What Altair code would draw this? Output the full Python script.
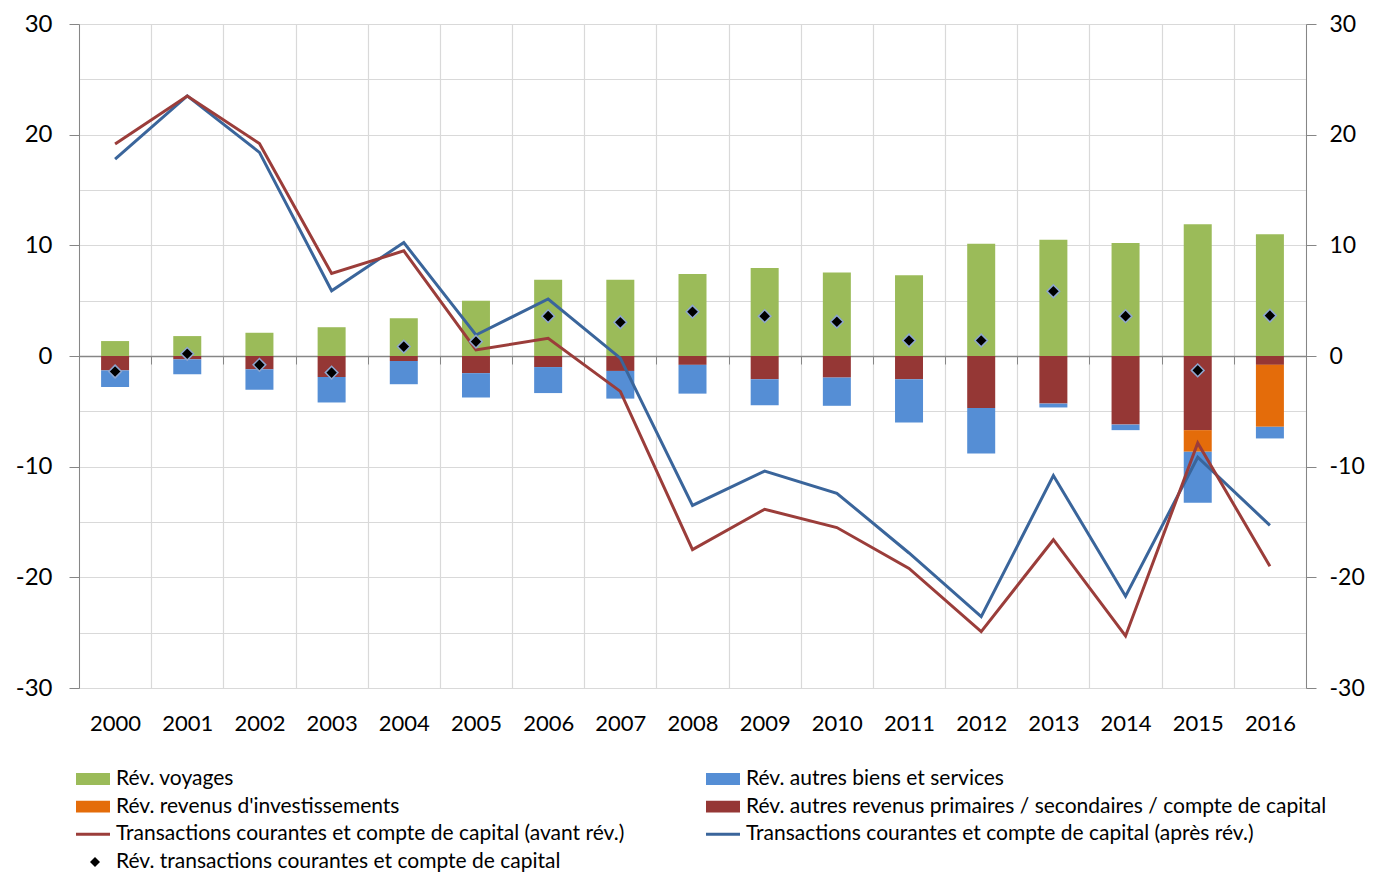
import altair as alt
import pandas as pd

# ---------------- data ----------------
years = [str(y) for y in range(2000, 2017)]
voyages = [1.35, 1.8, 2.1, 2.6, 3.4, 5.0, 6.9, 6.9, 7.4, 7.95, 7.55, 7.3, 10.15, 10.5, 10.2, 11.9, 11.0]
autres_revenus = [-1.3, -0.3, -1.2, -1.9, -0.45, -1.55, -1.0, -1.35, -0.8, -2.1, -1.95, -2.1, -4.7, -4.3, -6.2, -6.7, -0.8]
revenus_inv = [0, 0, 0, 0, 0, 0, 0, 0, 0, 0, 0, 0, 0, 0, 0, -1.95, -5.6]
autres_biens = [-1.5, -1.35, -1.85, -2.3, -2.1, -2.2, -2.35, -2.5, -2.6, -2.35, -2.55, -3.9, -4.1, -0.35, -0.5, -4.6, -1.05]
rev_total = [-1.4, 0.2, -0.8, -1.5, 0.85, 1.3, 3.6, 3.05, 4.0, 3.6, 3.1, 1.4, 1.4, 5.85, 3.6, -1.3, 3.65]
avant = [19.15, 23.5, 19.2, 7.45, 9.5, 0.55, 1.6, -3.2, -17.5, -13.85, -15.5, -19.2, -24.9, -16.6, -25.3, -7.85, -19.0]
apres = [17.8, 23.5, 18.4, 5.9, 10.25, 1.9, 5.15, -0.2, -13.5, -10.4, -12.4, -17.8, -23.55, -10.8, -21.7, -9.15, -15.3]

S_VOY = "Rév. voyages"
S_BIENS = "Rév. autres biens et services"
S_INV = "Rév. revenus d'investissements"
S_AUTRES = "Rév. autres revenus primaires / secondaires / compte de capital"
S_AVANT = "Transactions courantes et compte de capital (avant rév.)"
S_APRES = "Transactions courantes et compte de capital (après rév.)"
S_REV = "Rév. transactions courantes et compte de capital"

series_names = [S_VOY, S_BIENS, S_INV, S_AUTRES, S_AVANT, S_APRES, S_REV]
series_colors = ["#9BBB59", "#558ED5", "#E46C0A", "#953735", "#9B3D3A", "#3A659B", "#000000"]

# legend layout (column, row) per series
legend_cols = [0, 1, 0, 1, 0, 1, 0]
legend_rows = [0, 0, 1, 1, 2, 2, 3]
legend_kind = ["rect", "rect", "rect", "rect", "line", "line", "diamond"]

# ---------------- tables ----------------
bar_rows = []
for series, vals, ordv in [(S_VOY, voyages, 0), (S_AUTRES, autres_revenus, 1),
                           (S_INV, revenus_inv, 2), (S_BIENS, autres_biens, 3)]:
    for yr, v in zip(years, vals):
        bar_rows.append({"year": yr, "series": series, "value": v, "ord": ordv})
bars_df = pd.DataFrame(bar_rows)

line_rows = []
for series, vals in [(S_APRES, apres), (S_AVANT, avant)]:
    for yr, v in zip(years, vals):
        line_rows.append({"year": yr, "series": series, "value": v})
lines_df = pd.DataFrame(line_rows)

pts_df = pd.DataFrame({"year": years, "value": rev_total, "series": S_REV})

leg_df = pd.DataFrame({"series": series_names, "col": legend_cols,
                       "row": legend_rows, "kind": legend_kind})

# ---------------- chart ----------------
W, H = 1227, 664
FONT = "Lato"
AXC = "#868686"
GRID = "#D9D9D9"

x_scale = alt.Scale(paddingInner=0, paddingOuter=0)
y_scale = alt.Scale(domain=[-30, 30], nice=False, zero=False)
color_scale = alt.Scale(domain=series_names, range=series_colors)

bars = alt.Chart(bars_df).mark_bar(size=28).encode(
    x=alt.X("year:N", scale=x_scale, title=None, sort=years,
            axis=alt.Axis(orient="bottom", offset=-H / 2, domain=True, domainColor=AXC,
                          domainWidth=1.3, ticks=True, tickBand="extent", tickSize=8,
                          tickColor=AXC, grid=False, labelPadding=349, labelFont=FONT,
                          labelFontSize=22, labelColor="#000000", labelAngle=0)),
    y=alt.Y("value:Q", stack="zero", scale=y_scale, title=None,
            axis=alt.Axis(orient="left", values=list(range(-30, 31, 5)), grid=True,
                          gridColor=GRID, gridWidth=1.2, domain=True, domainColor=AXC,
                          ticks=True, tickColor=AXC, tickSize=10,
                          tickOpacity={"condition": {"test": "datum.value % 10 === 0", "value": 1}, "value": 0},
                          labelExpr="datum.value % 10 === 0 ? '' + datum.value : ''",
                          labelFont=FONT, labelFontSize=24, labelColor="#000000",
                          labelPadding=17)),
    color=alt.Color("series:N", scale=color_scale, legend=None),
    order=alt.Order("ord:Q"),
)

lines = alt.Chart(lines_df).mark_line(strokeWidth=3).encode(
    x=alt.X("year:N", scale=x_scale, title=None, sort=years,
            axis=alt.Axis(orient="top", grid=True, gridColor=GRID, gridWidth=1.2,
                          tickBand="extent", ticks=False, labels=False, domain=False)),
    y=alt.Y("value:Q", scale=y_scale, title=None,
            axis=alt.Axis(orient="right", values=list(range(-30, 31, 10)), grid=False,
                          domain=True, domainColor=AXC, ticks=True, tickColor=AXC,
                          tickSize=10, labelFont=FONT, labelFontSize=23,
                          labelExpr="'' + datum.value",
                          labelColor="#000000", labelPadding=13)),
    color=alt.Color("series:N", scale=color_scale, legend=None),
    detail="series:N",
)

points = alt.Chart(pts_df).mark_point(shape="diamond", filled=True, size=160,
                                      stroke="#8EA6CF", strokeWidth=1.5, opacity=1).encode(
    x=alt.X("year:N", scale=x_scale, sort=years, axis=None),
    y=alt.Y("value:Q", scale=y_scale, axis=None),
    color=alt.Color("series:N", scale=color_scale, legend=None),
)

main = alt.layer(bars, lines, points)

lx = alt.X("col:Q", scale=alt.Scale(domain=[0, 1], range=[14, 644]), axis=None)
ly = alt.Y("row:Q", scale=alt.Scale(domain=[0, 3], range=[755, 838]), axis=None)
lc = alt.Color("series:N", scale=color_scale, legend=None)

leg_base = alt.Chart(leg_df)
leg_rect = leg_base.transform_filter("datum.kind === 'rect'").mark_point(
    shape="M-1,-0.35H1V0.35H-1Z", size=1156, filled=True, opacity=1).encode(x=lx, y=ly, color=lc)
leg_line = leg_base.transform_filter("datum.kind === 'line'").mark_point(
    shape="M-1,0H1", size=1156, filled=False, strokeWidth=3, opacity=1).encode(x=lx, y=ly, color=lc)
leg_dia = leg_base.transform_filter("datum.kind === 'diamond'").mark_point(
    shape="diamond", size=100, filled=True, opacity=1, xOffset=2).encode(x=lx, y=ly, color=lc)
leg_text = leg_base.mark_text(align="left", baseline="middle", dx=23, font=FONT,
                              fontSize=21, color="#000000").encode(x=lx, y=ly, text="series:N")

legend = alt.layer(leg_rect, leg_line, leg_dia, leg_text)

chart = alt.layer(main, legend).resolve_scale(x="independent", y="independent").properties(
    width=W, height=H,
    autosize=alt.AutoSizeParams(type="none"),
    padding={"left": 71, "top": 16, "right": 62, "bottom": 190},
).configure_view(stroke=None).configure(font=FONT)

chart.save("out.html", embed_options={"renderer": "svg", "actions": False})
